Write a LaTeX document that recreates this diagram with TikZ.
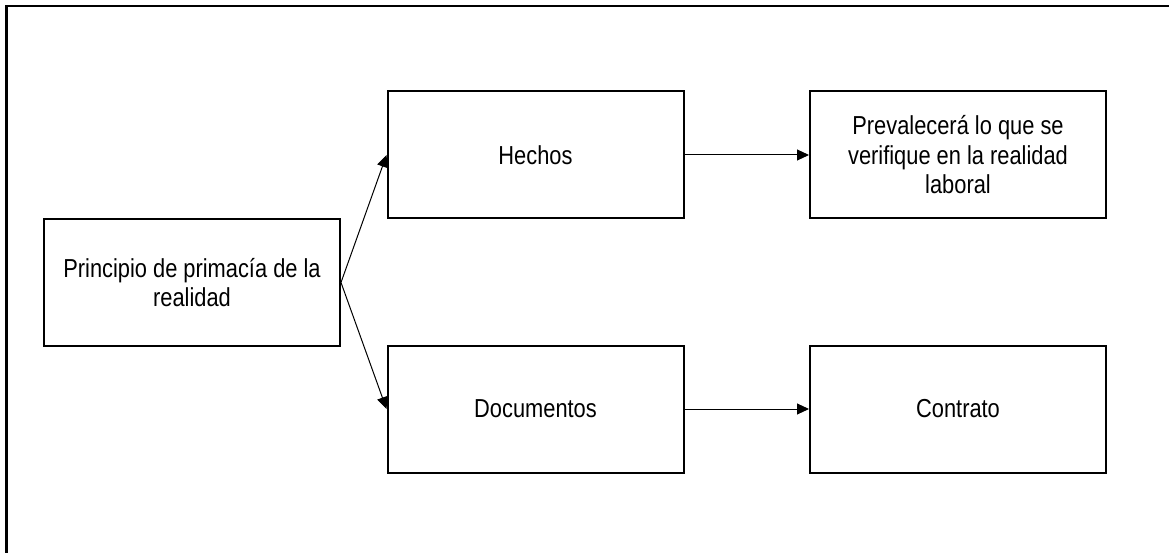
\documentclass[tikz,border=0pt]{standalone}
\usepackage{fontspec}
\setmainfont[FakeStretch=0.84]{Liberation Sans}
\usetikzlibrary{arrows.meta}
\begin{document}
\begin{tikzpicture}[x=1pt,y=-1pt,
  box/.style={draw, line width=2pt, minimum width=296pt, minimum height=127pt,
    align=center, inner sep=0pt, font=\fontsize{26}{29.5}\selectfont},
  conn/.style={line width=1pt, -{Triangle[length=12pt,width=11pt]}}]
\useasboundingbox (0,0) rectangle (1169,553);
\draw[line width=2.5pt] (6.5,553) -- (6.5,6) -- (1169,6);
\node[box] (principio) at (192,282.5) {Principio de primacía de la\\realidad};
\node[box] (hechos) at (535.5,155) {Hechos};
\node[box] (prev) at (958,155) {Prevalecerá lo que se\\verifique en la realidad\\laboral};
\node[box] (docs) at (535.5,409) {Documentos};
\node[box] (contrato) at (958,409) {Contrato};
\draw[conn] (principio.east) -- (hechos.west);
\draw[conn] (principio.east) -- (docs.west);
\draw[conn] (hechos.east) -- (prev.west);
\draw[conn] (docs.east) -- (contrato.west);
\end{tikzpicture}
\end{document}
